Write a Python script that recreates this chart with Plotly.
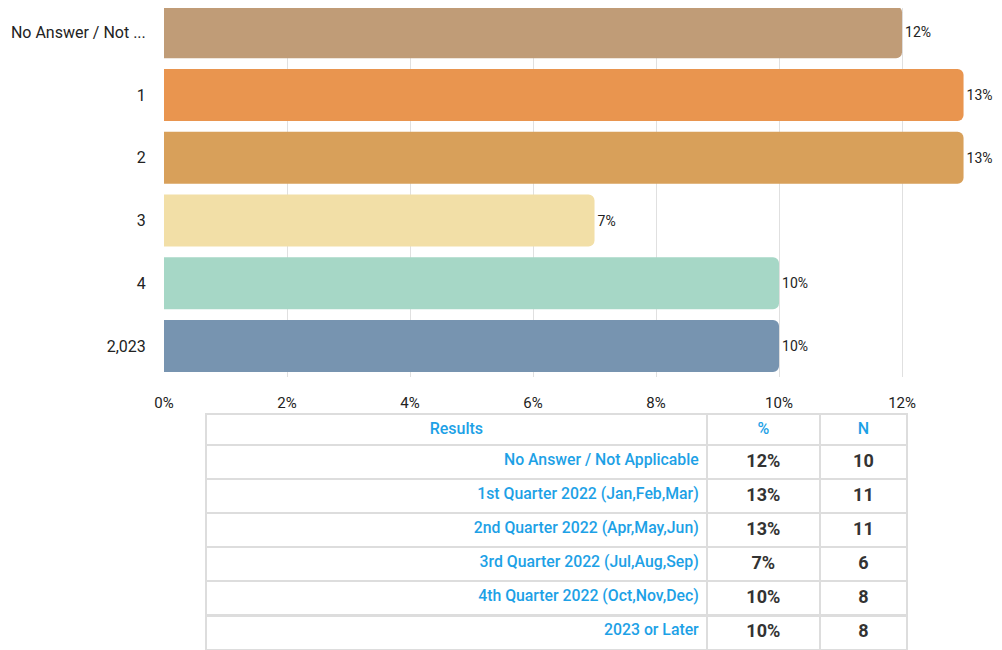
import plotly.graph_objects as go

categories = ["No Answer / Not ...", "1", "2", "3", "4", "2,023"]
values = [12, 13, 13, 7, 10, 10]
bar_colors = ["#C09C77", "#E9954F", "#D8A05A", "#F2DFA7", "#A6D7C6", "#7794B0"]

table_labels = ["No Answer / Not Applicable", "1st Quarter 2022 (Jan,Feb,Mar)",
                "2nd Quarter 2022 (Apr,May,Jun)", "3rd Quarter 2022 (Jul,Aug,Sep)",
                "4th Quarter 2022 (Oct,Nov,Dec)", "2023 or Later"]
table_pct = ["12%", "13%", "13%", "7%", "10%", "10%"]
table_n = [10, 11, 11, 6, 8, 8]
x_ticks = [0, 2, 4, 6, 8, 10, 12]
x_tick_labels = ["0%", "2%", "4%", "6%", "8%", "10%", "12%"]

# page body has an 8px margin; keep the figure inside the window
W, H = 994, 642


def px(x):
    return (x - 8) / W


def py(y):
    return 1 - (y - 8) / H


fig = go.Figure()
fig.add_trace(go.Bar(
    y=categories, x=values, orientation="h",
    marker=dict(color=bar_colors, line=dict(width=0)),
    text=[f"{v}%" for v in values], textposition="outside",
    textfont=dict(family="Roboto", size=14, color="#222"),
    cliponaxis=False, hoverinfo="skip",
))
fig.add_trace(go.Table(
    domain=dict(x=[px(206), px(907)], y=[0, py(414)]),
    columnwidth=[500, 113, 87],
    header=dict(
        values=["Results", "%", "N"],
        align=["center", "center", "center"],
        font=dict(family="Roboto", size=16, color="#1DA1E6", weight=500),
        fill_color="white", line=dict(color="#DDDDDD", width=2), height=31,
    ),
    cells=dict(
        values=[table_labels, table_pct, table_n],
        align=["right", "center", "center"],
        font=dict(family="Roboto", size=[15.8, 18, 18], color=["#1DA1E6", "#333333", "#333333"],
                  weight=[500, 700, 700]),
        fill_color="white", line=dict(color="#DDDDDD", width=2), height=34.1,
    ),
))
fig.update_layout(
    width=W, height=H, margin=dict(l=0, r=0, t=0, b=0),
    paper_bgcolor="white", plot_bgcolor="white", showlegend=False,
    bargap=0.171, barcornerradius=6,
    font=dict(family="Roboto", size=15, color="#222"),
    xaxis=dict(domain=[px(164), px(990)], range=[0, 13.43], tickvals=x_ticks, ticktext=x_tick_labels,
               showgrid=True, gridcolor="#E0E0E0", zeroline=False, showline=False,
               tickfont=dict(size=15, color="#222"), ticks="outside", ticklen=12,
               tickcolor="rgba(0,0,0,0)", automargin=False),
    yaxis=dict(domain=[py(377.4), 1], range=[5.5, -0.387],
               tickfont=dict(size=16, color="#222"), showgrid=False, ticks="outside",
               ticklen=14, tickcolor="rgba(0,0,0,0)", automargin=False, showline=False),
)
fig.write_html("out.html")
